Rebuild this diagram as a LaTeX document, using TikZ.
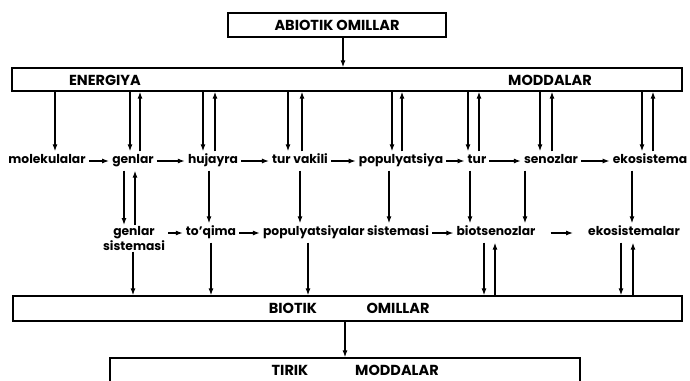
\documentclass[tikz,border=0pt]{standalone}
\usepackage{fontspec}
\setmainfont{Poppins}
\usetikzlibrary{arrows.meta}
\begin{document}
\begin{tikzpicture}[x=1pt,y=-1pt,
  arr/.style={line width=1.2pt,-{Latex[length=7pt,width=5pt]}},
  bigbox/.style={draw,line width=1.3pt,inner sep=0pt},
  lab/.style={font=\fontsize{12.3}{13}\selectfont\bfseries,inner xsep=3pt,inner ysep=5pt,text height=7pt,text depth=2pt},
  caps/.style={font=\fontsize{14.5}{15}\selectfont\bfseries,inner sep=0pt}
]
\useasboundingbox (0,0) rectangle (690,380);
\clip (0,0) rectangle (690,380);

% big boxes
\node[bigbox,minimum width=218pt,minimum height=24pt] (abio) at (337,25) {};
\node[caps] (abiot) at (337,25) {ABIOTIK OMILLAR};
\node[bigbox,minimum width=670pt,minimum height=23pt] (top) at (347,79.5) {};
\node[caps] (ener) at (105,80) {ENERGIYA};
\node[caps] (modd) at (550,80) {MODDALAR};
\node[bigbox,minimum width=669pt,minimum height=25pt] (biot) at (347.5,308.5) {};
\node[caps] (biott) at (293,308.5) {BIOTIK};
\node[caps] (omil) at (398,308.5) {OMILLAR};
\node[bigbox,minimum width=470pt,minimum height=40pt] (tirik) at (345,378) {};
\node[caps] (tirt) at (290,370) {TIRIK};
\node[caps] (tirm) at (397,370) {MODDALAR};

% row 1
\node[lab] (mol) at (47,161) {molekulalar};
\node[lab] (gen) at (133,161) {genlar};
\node[lab] (huj) at (213,161) {hujayra};
\node[lab] (tvk) at (300,161) {tur vakili};
\node[lab] (pop) at (401,161) {populyatsiya};
\node[lab] (tur) at (477,161) {tur};
\node[lab] (sen) at (551,161) {senozlar};
\node[lab] (eko) at (650,161) {ekosistema};

% row 2
\node[font=\fontsize{12.3}{15}\selectfont\bfseries,align=center,anchor=north,inner xsep=3pt,inner ysep=1pt] (gsis) at (134,225) {genlar\\sistemasi};
\node[lab] (toq) at (211,233) {to'qima};
\node[lab] (psis) at (346,233) {populyatsiyalar sistemasi};
\node[lab] (bio) at (496,233) {biotsenozlar};
\node[lab] (ekos) at (634,233) {ekosistemalar};

% main vertical arrows
\draw[arr] (abio.south -| 343,0) -- (top.north -| 343,0);
\draw[arr] (biot.south -| 345,0) -- (tirik.north -| 345,0);

% top box <-> row 1
\draw[arr] (top.south -| 55,0) -- (mol.north -| 55,0);
\draw[arr] (top.south -| 130,0) -- (gen.north -| 130,0);
\draw[arr] (gen.north -| 140,0) -- (top.south -| 140,0);
\draw[arr] (top.south -| 203,0) -- (huj.north -| 203,0);
\draw[arr] (huj.north -| 215,0) -- (top.south -| 215,0);
\draw[arr] (top.south -| 288,0) -- (tvk.north -| 288,0);
\draw[arr] (tvk.north -| 302,0) -- (top.south -| 302,0);
\draw[arr] (top.south -| 392,0) -- (pop.north -| 392,0);
\draw[arr] (pop.north -| 402,0) -- (top.south -| 402,0);
\draw[arr] (top.south -| 468,0) -- (tur.north -| 468,0);
\draw[arr] (tur.north -| 479,0) -- (top.south -| 479,0);
\draw[arr] (top.south -| 540,0) -- (sen.north -| 540,0);
\draw[arr] (sen.north -| 552,0) -- (top.south -| 552,0);
\draw[arr] (top.south -| 642,0) -- (eko.north -| 642,0);
\draw[arr] (eko.north -| 653,0) -- (top.south -| 653,0);

% row 1 horizontal
\draw[arr] (mol) -- (gen);
\draw[arr] (gen) -- (huj);
\draw[arr] (huj) -- (tvk);
\draw[arr] (tvk) -- (pop);
\draw[arr] (pop) -- (tur);
\draw[arr] (tur) -- (sen);
\draw[arr] (sen) -- (eko);

% row 1 -> row 2
\draw[arr] (gen.south -| 124,0) -- (gsis.north -| 124,0);
\draw[arr] (gsis.north -| 135,0) -- (gen.south -| 135,0);
\draw[arr] (huj.south -| 209,0) -- (toq.north -| 209,0);
\draw[arr] (tvk.south -| 300,0) -- (psis.north -| 300,0);
\draw[arr] (pop.south -| 389,0) -- (psis.north -| 389,0);
\draw[arr] (tur.south -| 470,0) -- (bio.north -| 470,0);
\draw[arr] (sen.south -| 525,0) -- (bio.north -| 525,0);
\draw[arr] (eko.south -| 632,0) -- (ekos.north -| 632,0);

% row 2 horizontal
\draw[arr] (gsis.east |- toq.west) -- (toq.west);
\draw[arr] (toq) -- (psis);
\draw[arr] (psis) -- (bio);
\draw[arr,shorten <=12pt,shorten >=12pt] (bio) -- (ekos);

% row 2 <-> biotik box
\draw[arr] (gsis.south -| 133,0) -- (biot.north -| 133,0);
\draw[arr] (toq.south -| 211,0) -- (biot.north -| 211,0);
\draw[arr] (psis.south -| 308,0) -- (biot.north -| 308,0);
\draw[arr] (bio.south -| 484,0) -- (biot.north -| 484,0);
\draw[arr] (biot.north -| 495,0) -- (bio.south -| 495,0);
\draw[arr] (ekos.south -| 621,0) -- (biot.north -| 621,0);
\draw[arr] (biot.north -| 633,0) -- (ekos.south -| 633,0);
\end{tikzpicture}
\end{document}
